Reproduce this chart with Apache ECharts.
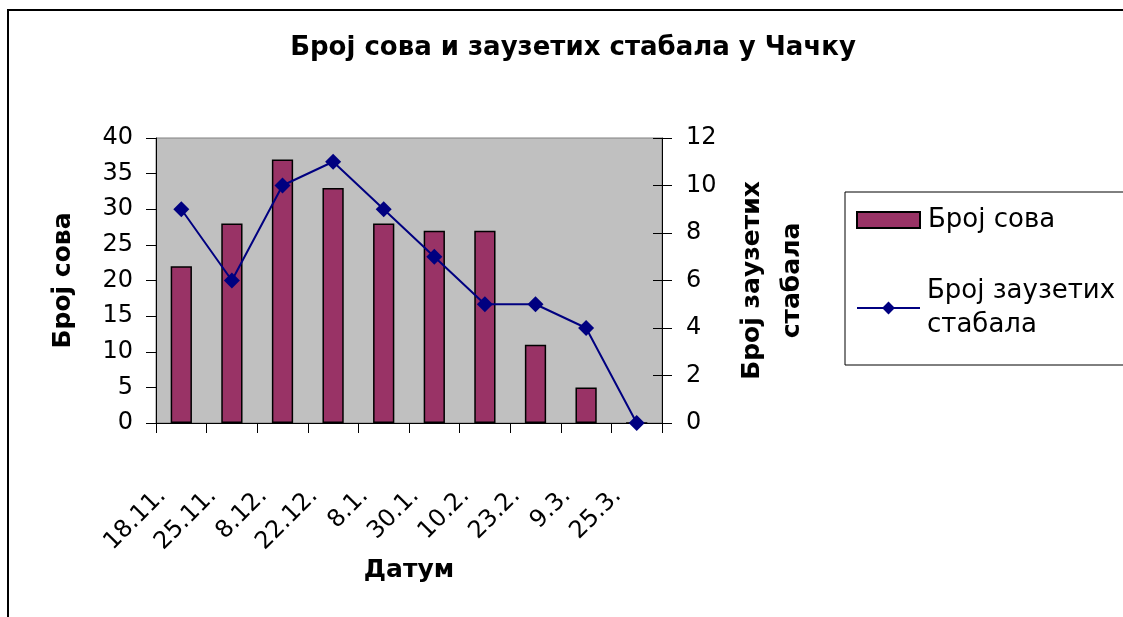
<!DOCTYPE html>
<html>
<head>
<meta charset="utf-8">
<script src="https://cdn.jsdelivr.net/npm/echarts@6/dist/echarts.min.js"></script>
<style>
html, body { margin: 0; padding: 0; background: #fff; }
#chart { width: 1123px; height: 617px; }
</style>
</head>
<body>
<div id="chart"></div>
<script type="text/javascript">
// Број сова / заузетих стабала по датуму
var dates = ['18.11.', '25.11.', '8.12.', '22.12.', '8.1.', '30.1.', '10.2.', '23.2.', '9.3.', '25.3.']
var owlCount = [22, 28, 37, 33, 28, 27, 27, 11, 5, 0]
var treeCount = [9, 6, 10, 11, 9, 7, 5, 5, 4, 0]
var leftTicks = { min: 0, max: 40, interval: 5 }
var rightTicks = { min: 0, max: 12, interval: 2 }

var owlName = 'Број сова'
var treeName = 'Број заузетих стабала'
var font = 'DejaVu Sans, Liberation Sans, sans-serif'

var myChart = echarts.init(document.getElementById('chart'))
var option = {
    animation: false,
    textStyle: { fontFamily: font },
    graphic: [{
        type: 'rect',
        z: -10,
        shape: { x: 8, y: 10, width: 1300, height: 800 },
        style: { fill: 'none', stroke: '#000', lineWidth: 2 }
    }],
    title: {
        text: 'Број сова и заузетих стабала у Чачку',
        left: 573,
        top: 48,
        padding: 0,
        textAlign: 'center',
        textVerticalAlign: 'middle',
        textStyle: { fontFamily: font, fontSize: 26, fontWeight: 'bold', color: '#000' }
    },
    legend: {
        orient: 'vertical',
        left: 845,
        top: 192,
        padding: [13, 30, 6, 11],
        borderColor: '#000',
        borderWidth: 1,
        itemWidth: 63,
        itemHeight: 16,
        itemGap: 22,
        textStyle: { fontFamily: font, fontSize: 26, color: '#000', lineHeight: 30, padding: [0, 0, 0, 3] },
        formatter: function (name) {
            return name === treeName ? 'Број заузетих\nстабала' : name
        },
        data: [
            { name: owlName, icon: 'rect' },
            { name: treeName, textStyle: { lineHeight: 34, padding: [34, 0, 0, 2] } }
        ]
    },
    grid: {
        left: 156,
        right: 461,
        top: 138,
        bottom: 194,
        show: true,
        backgroundColor: '#C0C0C0',
        borderColor: '#808080',
        borderWidth: 1,
        containLabel: false
    },
    xAxis: {
        type: 'category',
        data: dates,
        name: 'Датум',
        nameLocation: 'middle',
        nameGap: 134,
        nameTextStyle: { fontFamily: font, fontSize: 25, fontWeight: 'bold', color: '#000' },
        axisLine: { lineStyle: { color: '#000', width: 1 } },
        axisTick: { show: true, length: 10, lineStyle: { color: '#000' } },
        axisLabel: {
            rotate: 45,
            interval: 0,
            margin: 50,
            padding: [0, 27, 0, 0],
            fontFamily: font,
            fontSize: 24,
            color: '#000'
        }
    },
    yAxis: [{
            type: 'value',
            position: 'left',
            min: leftTicks.min,
            max: leftTicks.max,
            interval: leftTicks.interval,
            name: owlName,
            nameLocation: 'middle',
            nameGap: 80,
            nameTextStyle: { fontFamily: font, fontSize: 25, fontWeight: 'bold', color: '#000' },
            axisLine: { show: true, lineStyle: { color: '#000', width: 1 } },
            axisTick: { show: true, length: 10, lineStyle: { color: '#000' } },
            axisLabel: { margin: 23, fontFamily: font, fontSize: 24, color: '#000' },
            splitLine: { show: false }
        },
        {
            type: 'value',
            position: 'right',
            min: rightTicks.min,
            max: rightTicks.max,
            interval: rightTicks.interval,
            name: 'Број заузетих\nстабала',
            nameLocation: 'middle',
            nameGap: 70,
            nameTextStyle: { fontFamily: font, fontSize: 25, fontWeight: 'bold', color: '#000', lineHeight: 40 },
            axisLine: { show: true, lineStyle: { color: '#000', width: 1 } },
            axisTick: { show: true, length: 10, lineStyle: { color: '#000' } },
            axisLabel: { margin: 24, fontFamily: font, fontSize: 24, color: '#000' },
            splitLine: { show: false }
        },
        {
            // inner half of the right-hand ticks
            type: 'value',
            position: 'right',
            min: rightTicks.min,
            max: rightTicks.max,
            interval: rightTicks.interval,
            axisLine: { show: false },
            axisTick: { show: true, inside: true, length: 9, lineStyle: { color: '#000' } },
            axisLabel: { show: false },
            splitLine: { show: false }
        }
    ],
    series: [{
            name: owlName,
            type: 'bar',
            yAxisIndex: 0,
            barWidth: '42%',
            itemStyle: {
                color: '#993366',
                borderColor: '#000',
                borderWidth: 1.5
            },
            data: owlCount
        },
        {
            name: treeName,
            type: 'line',
            yAxisIndex: 1,
            symbol: 'diamond',
            symbolSize: 16,
            showAllSymbol: true,
            z: 5,
            itemStyle: { color: '#000080' },
            lineStyle: { width: 2, color: '#000080' },
            data: treeCount
        }
    ]
}
myChart.setOption(option)
</script>
</body>
</html>
